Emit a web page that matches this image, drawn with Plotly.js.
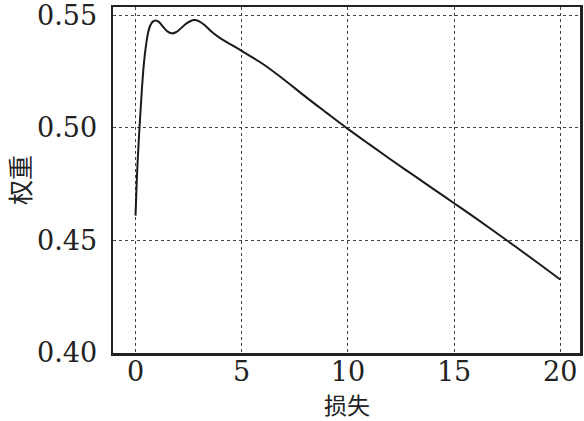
<!DOCTYPE html>
<html>
<head>
<meta charset="utf-8">
<script src="https://cdn.plot.ly/plotly-3.0.1.min.js"></script>
<style>html,body{margin:0;padding:0;background:#fff;}</style>
</head>
<body>
<div id="chart" style="width:584px;height:421px;"></div>
<script>
const lossX = [0, 0.05, 0.1, 0.2, 0.3, 0.4, 0.5, 0.6, 0.7, 0.8, 0.95, 1.1, 1.3, 1.5, 1.7, 1.9, 2.1, 2.4, 2.75, 3.0, 3.3, 3.6, 4.0, 4.5, 5, 6, 7, 8, 9, 10, 11, 12, 13, 14, 15, 16, 17, 18, 19, 20];
const weightY = [0.461, 0.474, 0.485, 0.502, 0.517, 0.529, 0.537, 0.5425, 0.5455, 0.547, 0.5476, 0.547, 0.5448, 0.5428, 0.5419, 0.5424, 0.5438, 0.5463, 0.5478, 0.5472, 0.5452, 0.5425, 0.5397, 0.5369, 0.5341, 0.5283, 0.5213, 0.5138, 0.5066, 0.4995, 0.4927, 0.486, 0.4795, 0.473, 0.4665, 0.46, 0.4533, 0.4465, 0.4396, 0.4326];
const xTicks = [0, 5, 10, 15, 20];
const yTicks = [0.40, 0.45, 0.50, 0.55];
const yTickText = ["0.40", "0.45", "0.50", "0.55"];
const xTitle = "损失";
const yTitle = "权重";

const tickFont = {family: "DejaVu Serif", size: 27, color: "#222"};
const titleFont = {family: "Noto Sans CJK SC", size: 23, color: "#222"};
const yTitleFont = {family: "Noto Sans CJK SC", size: 25, color: "#222"};

Plotly.newPlot("chart", [{
  x: lossX, y: weightY, type: "scatter", mode: "lines",
  line: {color: "#1a1a1a", width: 2, shape: "spline", smoothing: 1},
  hoverinfo: "skip"
}], {
  width: 584, height: 421,
  margin: {l: 113, r: 4, t: 7, b: 68, pad: 0},
  paper_bgcolor: "#fff", plot_bgcolor: "#fff",
  showlegend: false,
  font: {family: "DejaVu Serif"},
  xaxis: {
    range: [-1.06, 20.93], tickvals: xTicks, ticktext: xTicks.map(String),
    showgrid: true, gridcolor: "#444", griddash: "dot", gridwidth: 1,
    zeroline: false, showline: true, linecolor: "#222", linewidth: 2.5, mirror: true,
    ticks: "", tickfont: tickFont, ticklabelstandoff: -7, ticklabeloverflow: "allow",
    automargin: false
  },
  yaxis: {
    range: [0.40, 0.5536], tickvals: yTicks, ticktext: yTickText,
    showgrid: true, gridcolor: "#444", griddash: "dot", gridwidth: 1,
    zeroline: false, showline: true, linecolor: "#222", linewidth: 2.5, mirror: true,
    ticks: "", tickfont: tickFont, ticklabelstandoff: 8, ticklabeloverflow: "allow",
    automargin: false
  },
  annotations: [
    {text: xTitle, xref: "paper", yref: "paper", x: 0.5, y: 0, yshift: -51, borderpad: 0,
     xanchor: "center", yanchor: "middle", showarrow: false, font: titleFont},
    {text: yTitle, xref: "paper", yref: "paper", x: 0, y: 0.5, xshift: -94, borderpad: 0,
     xanchor: "center", yanchor: "middle", textangle: -90, showarrow: false, font: yTitleFont}
  ]
}, {staticPlot: true, displayModeBar: false});
</script>
</body>
</html>
